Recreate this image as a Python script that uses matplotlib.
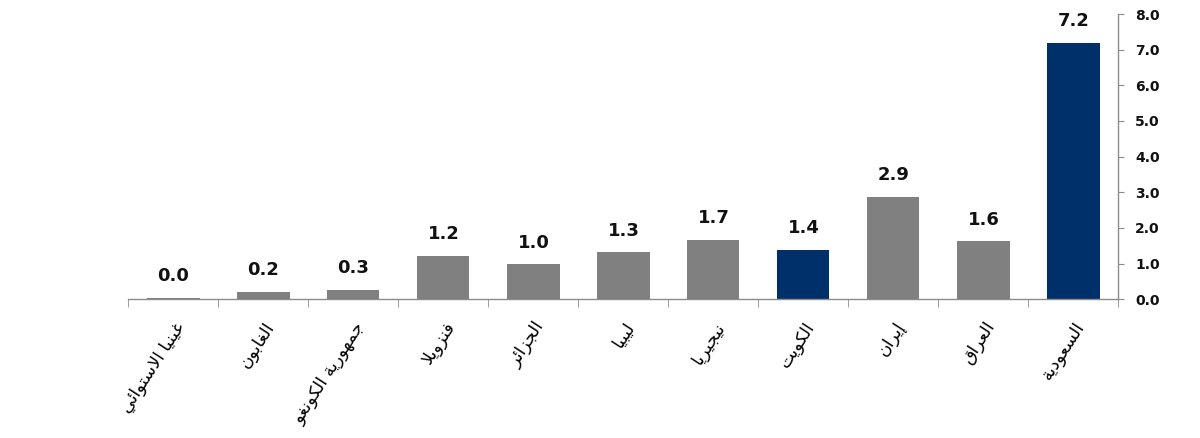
import matplotlib
matplotlib.use("Agg")
import matplotlib.pyplot as plt
import numpy as np

countries = ["غينيا الاستوائي", "الغابون", "جمهورية الكونغو", "فنزويلا", "الجزائر",
             "ليبيا", "نيجيريا", "الكويت", "إيران", "العراق", "السعودية"]
values = [0.04, 0.21, 0.26, 1.22, 0.98, 1.31, 1.66, 1.38, 2.87, 1.62, 7.19]
highlight = ["الكويت", "السعودية"]
y_ticks = [0, 1, 2, 3, 4, 5, 6, 7, 8]

# presentation forms: isolated, final, initial, medial (None = no form)
FORMS = {
    'ء': (0xFE80, None, None, None),
    'آ': (0xFE81, 0xFE82, None, None),
    'أ': (0xFE83, 0xFE84, None, None),
    'ؤ': (0xFE85, 0xFE86, None, None),
    'إ': (0xFE87, 0xFE88, None, None),
    'ا': (0xFE8D, 0xFE8E, None, None),
    'ة': (0xFE93, 0xFE94, None, None),
    'د': (0xFEA9, 0xFEAA, None, None),
    'ذ': (0xFEAB, 0xFEAC, None, None),
    'ر': (0xFEAD, 0xFEAE, None, None),
    'ز': (0xFEAF, 0xFEB0, None, None),
    'و': (0xFEED, 0xFEEE, None, None),
    'ى': (0xFEEF, 0xFEF0, None, None),
    'لا': (0xFEFB, 0xFEFC, None, None),
    'لأ': (0xFEF7, 0xFEF8, None, None),
    'لإ': (0xFEF9, 0xFEFA, None, None),
    'لآ': (0xFEF5, 0xFEF6, None, None),
}
for ch, base in [('ئ', 0xFE89), ('ب', 0xFE8F), ('ت', 0xFE95), ('ث', 0xFE99),
                 ('ج', 0xFE9D), ('ح', 0xFEA1), ('خ', 0xFEA5), ('س', 0xFEB1),
                 ('ش', 0xFEB5), ('ص', 0xFEB9), ('ض', 0xFEBD), ('ط', 0xFEC1),
                 ('ظ', 0xFEC5), ('ع', 0xFEC9), ('غ', 0xFECD), ('ف', 0xFED1),
                 ('ق', 0xFED5), ('ك', 0xFED9), ('ل', 0xFEDD), ('م', 0xFEE1),
                 ('ن', 0xFEE5), ('ه', 0xFEE9), ('ي', 0xFEF1)]:
    FORMS[ch] = (base, base + 1, base + 2, base + 3)


def shape(text):
    # split into units, merging lam + alef into a ligature
    units = []
    i = 0
    while i < len(text):
        if text[i] == 'ل' and i + 1 < len(text) and text[i + 1] in 'اأإآ':
            units.append(text[i:i + 2])
            i += 2
        else:
            units.append(text[i])
            i += 1
    out = []
    for k, u in enumerate(units):
        if u not in FORMS:
            out.append(u)
            continue
        f = FORMS[u]
        prev = units[k - 1] if k > 0 else None
        nxt = units[k + 1] if k + 1 < len(units) else None
        j_prev = prev in FORMS and FORMS[prev][2] is not None and f[1] is not None
        j_next = f[2] is not None and nxt in FORMS and FORMS[nxt][1] is not None
        if j_prev and j_next:
            code = f[3]
        elif j_prev:
            code = f[1]
        elif j_next:
            code = f[2]
        else:
            code = f[0]
        out.append(chr(code))
    return ''.join(out[::-1])


gray = '#808080'
blue = '#003069'
colors = [blue if c in highlight else gray for c in countries]

fig = plt.figure(figsize=(12, 4.38), dpi=100)
ax = fig.add_axes([0.107, 0.317, 0.825, 0.651])

x = np.arange(len(countries))
bars = ax.bar(x, values, width=0.58, color=colors, zorder=2)

for xi, v in zip(x, values):
    ax.annotate(f"{v:.1f}", (xi, v), xytext=(0, 9), textcoords='offset points',
                ha='center', va='bottom', fontsize=13, fontweight='bold', color='#111111')

ax.set_xlim(-0.5, len(countries) - 0.5)
ax.set_ylim(0, 8)

for s in ['left', 'top']:
    ax.spines[s].set_visible(False)
for s in ['bottom', 'right']:
    ax.spines[s].set_color('#8c8c8c')
    ax.spines[s].set_linewidth(1.0)

ax.yaxis.tick_right()
ax.set_yticks(y_ticks)
ax.set_yticklabels([f"{t:.1f}" for t in y_ticks], fontsize=10, fontweight='bold', color='#111111')
ax.tick_params(axis='y', direction='out', length=4, color='#8c8c8c', pad=8)

ax.set_xticks(x)
ax.set_xticklabels([shape(c) for c in countries], rotation=57, ha='right',
                   rotation_mode='anchor', fontsize=12.5, color='black',
                   family='DejaVu Sans')
ax.tick_params(axis='x', which='major', length=0, pad=14)
ax.set_xticks(np.arange(-0.5, len(countries)), minor=True)
ax.tick_params(axis='x', which='minor', length=6, color='#8c8c8c', direction='out')

fig.savefig("out.png", dpi=100)
